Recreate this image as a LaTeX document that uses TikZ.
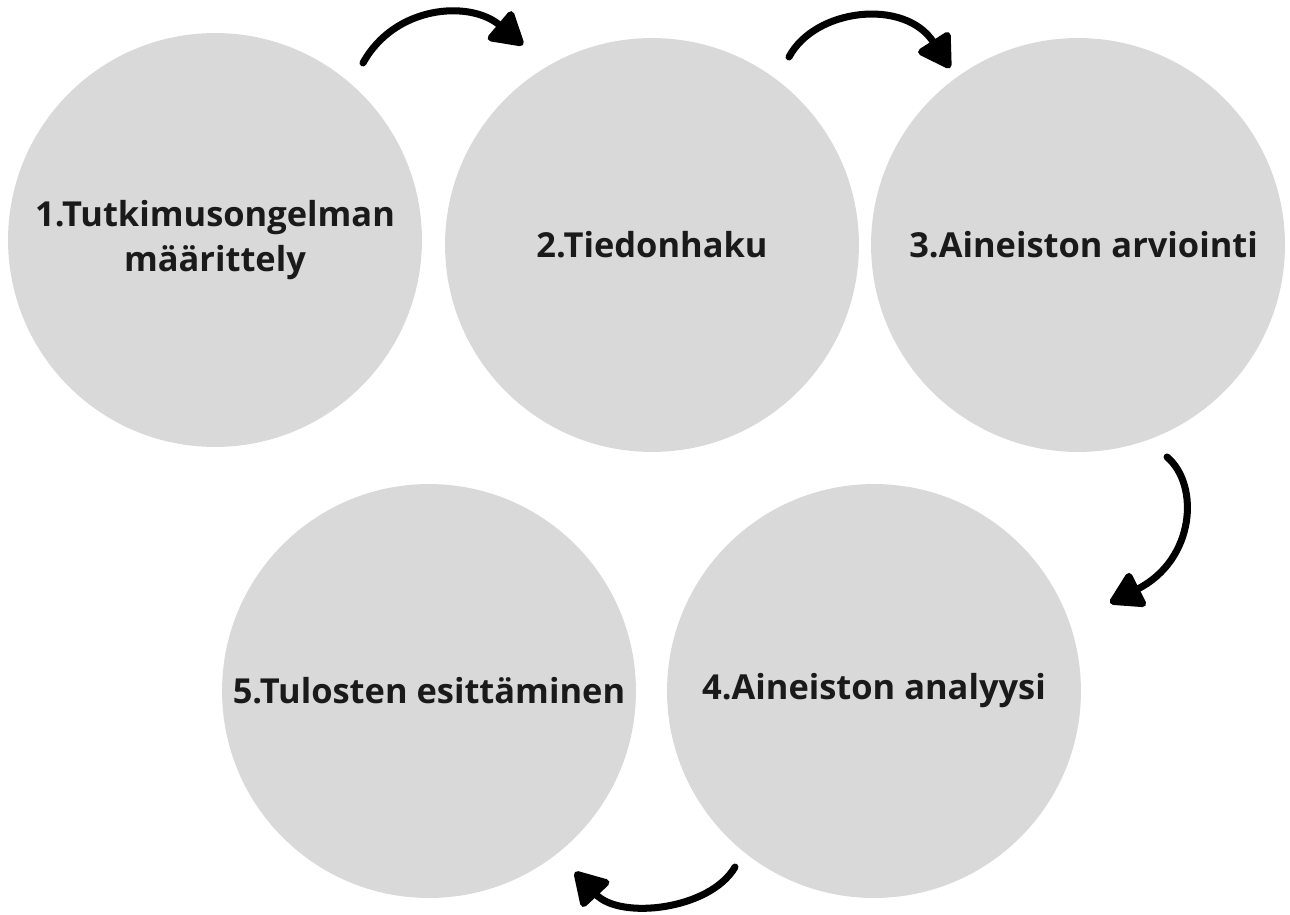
\documentclass[tikz,border=0pt]{standalone}
\usepackage{fontspec}
\setmainfont{Open Sans}
\usetikzlibrary{arrows.meta,calc}
\definecolor{circgray}{HTML}{D9D9D9}
\definecolor{txt}{HTML}{1A1A1A}
\tikzset{
  stepcircle/.style={circle, fill=circgray, draw=none, minimum size=8.28cm, inner sep=0pt,
    font=\fontsize{19.6pt}{26pt}\selectfont\bfseries, text=txt, align=center},
  flow/.style={line width=4pt, line cap=round, black,
    -{Triangle[length=0.72cm, width=0.82cm, round]}}
}
\begin{document}
\begin{tikzpicture}[x=0.02cm, y=-0.02cm]
\useasboundingbox (0,0) rectangle (1290,915);
\node[stepcircle] (c1) at (215,240) {1.Tutkimusongelman\\määrittely};
\node[stepcircle] (c2) at (652,245) {2.Tiedonhaku};
\node[stepcircle] (c3) at (1078,245) {\hspace*{16\pgflinewidth}3.Aineiston arviointi};
\node[stepcircle] (c4) at (874,691) {4.Aineiston analyysi};
\node[stepcircle] (c5) at (429,691) {5.Tulosten esittäminen};
\coordinate (a1s) at (363,63);
\coordinate (a1e) at (523,45);
\coordinate (a2s) at (789,57);
\coordinate (a2e) at (950,68);
\coordinate (a3s) at (1167,457);
\coordinate (a3e) at (1110,603);
\coordinate (a4s) at (735,867);
\coordinate (a4e) at (575,872);
\draw[flow] (a1s) .. controls (395,5) and (470,0) .. (a1e);
\draw[flow] (a2s) .. controls (815,8) and (905,-2) .. (a2e);
\draw[flow] (a3s) .. controls (1200,485) and (1195,560) .. (a3e);
\draw[flow] (a4s) .. controls (710,910) and (620,920) .. (a4e);
\end{tikzpicture}
\end{document}
